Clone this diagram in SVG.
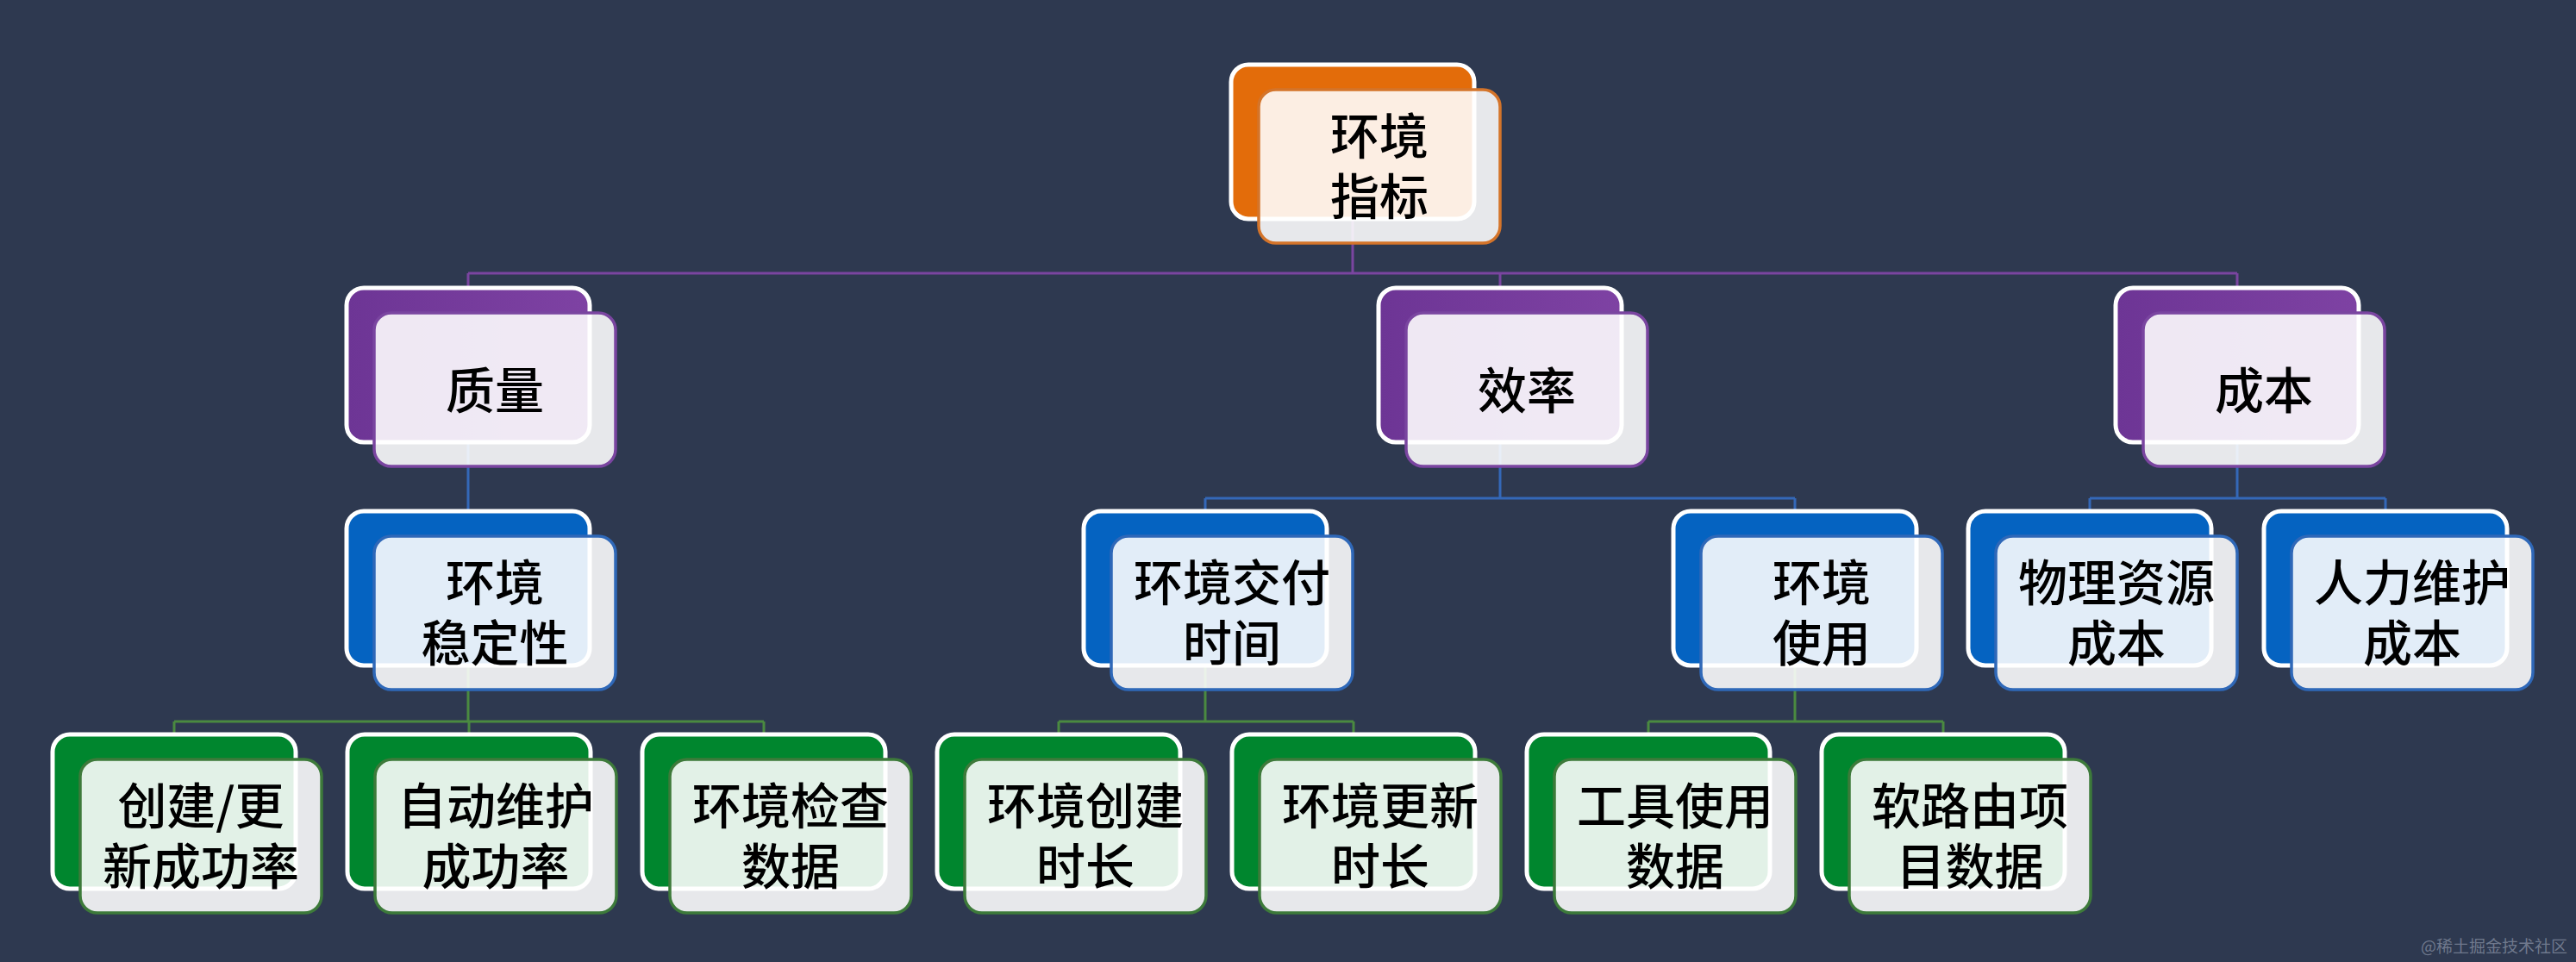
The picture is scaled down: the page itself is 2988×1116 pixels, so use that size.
<svg xmlns="http://www.w3.org/2000/svg" width="2988" height="1116" viewBox="0 0 2988 1116">
<style>
.bk{stroke:#ffffff;stroke-width:5}
.fr{fill:#ffffff;fill-opacity:0.885;stroke-width:3.5}
.t{font-family:"Noto Sans CJK SC","Noto Sans",sans-serif;font-size:57px;font-weight:500;fill:#000000;text-anchor:middle}
.o .bk{fill:#e36c0a}.o .fr{stroke:#d4742a}
.p .bk{fill:url(#gp)}.p .fr{stroke:#7a45a0}
.b .bk{fill:#0563c1}.b .fr{stroke:#2f68b8}
.g .bk{fill:#00862e}.g .fr{stroke:#3d7a3a}
.cp{stroke:#7a45a0;stroke-width:3;fill:none}
.cb{stroke:#3468b8;stroke-width:3;fill:none}
.cg{stroke:#4a8a40;stroke-width:3;fill:none}
</style>
<defs>
<linearGradient id="gp" x1="0" y1="0" x2="1" y2="0">
<stop offset="0" stop-color="#6d3595"/>
<stop offset="1" stop-color="#7e42a3"/>
</linearGradient>
</defs>
<rect width="2988" height="1116" fill="#2e3950"/>
<g id="connectors">
<path class="cp" d="M1569 254V317M543 317H2595M543 317V334M1740 317V334M2595 317V334"/>
<path class="cb" d="M543 513V593M1740 513V578M1398 578H2082M1398 578V593M2082 578V593M2595 513V578M2424 578H2767M2424 578V593M2767 578V593"/>
<path class="cg" d="M543 772V837M202 837H886M202 837V852M544 837V852M886 837V852M1398 772V837M1228 837H1570M1228 837V852M1570 837V852M2082 772V837M1912 837H2254M1912 837V852M2254 837V852"/>
</g>
<g id="n-root" class="o"><rect class="bk" x="1428" y="75" width="282" height="179" rx="20"/><rect class="fr" x="1460" y="104" width="280" height="178" rx="20"/><text class="t" x="1600" y="179">环境<tspan x="1600" dy="70">指标</tspan></text></g>
<g id="n-quality" class="p"><rect class="bk" x="402" y="334" width="282" height="179" rx="20"/><rect class="fr" x="434" y="363" width="280" height="178" rx="20"/><text class="t" x="574" y="474">质量</text></g>
<g id="n-efficiency" class="p"><rect class="bk" x="1599" y="334" width="282" height="179" rx="20"/><rect class="fr" x="1631" y="363" width="280" height="178" rx="20"/><text class="t" x="1771" y="474">效率</text></g>
<g id="n-cost" class="p"><rect class="bk" x="2454" y="334" width="282" height="179" rx="20"/><rect class="fr" x="2486" y="363" width="280" height="178" rx="20"/><text class="t" x="2626" y="474">成本</text></g>
<g id="n-stability" class="b"><rect class="bk" x="402" y="593" width="282" height="179" rx="20"/><rect class="fr" x="434" y="622" width="280" height="178" rx="20"/><text class="t" x="574" y="697">环境<tspan x="574" dy="70">稳定性</tspan></text></g>
<g id="n-delivery" class="b"><rect class="bk" x="1257" y="593" width="282" height="179" rx="20"/><rect class="fr" x="1289" y="622" width="280" height="178" rx="20"/><text class="t" x="1429" y="697">环境交付<tspan x="1429" dy="70">时间</tspan></text></g>
<g id="n-usage" class="b"><rect class="bk" x="1941" y="593" width="282" height="179" rx="20"/><rect class="fr" x="1973" y="622" width="280" height="178" rx="20"/><text class="t" x="2113" y="697">环境<tspan x="2113" dy="70">使用</tspan></text></g>
<g id="n-physical" class="b"><rect class="bk" x="2283" y="593" width="282" height="179" rx="20"/><rect class="fr" x="2315" y="622" width="280" height="178" rx="20"/><text class="t" x="2455" y="697">物理资源<tspan x="2455" dy="70">成本</tspan></text></g>
<g id="n-human" class="b"><rect class="bk" x="2626" y="593" width="282" height="179" rx="20"/><rect class="fr" x="2658" y="622" width="280" height="178" rx="20"/><text class="t" x="2798" y="697">人力维护<tspan x="2798" dy="70">成本</tspan></text></g>
<g id="n-create" class="g"><rect class="bk" x="61" y="852" width="282" height="179" rx="20"/><rect class="fr" x="93" y="881" width="280" height="178" rx="20"/><text class="t" x="233" y="956">创建/更<tspan x="233" dy="70">新成功率</tspan></text></g>
<g id="n-auto" class="g"><rect class="bk" x="403" y="852" width="282" height="179" rx="20"/><rect class="fr" x="435" y="881" width="280" height="178" rx="20"/><text class="t" x="575" y="956">自动维护<tspan x="575" dy="70">成功率</tspan></text></g>
<g id="n-check" class="g"><rect class="bk" x="745" y="852" width="282" height="179" rx="20"/><rect class="fr" x="777" y="881" width="280" height="178" rx="20"/><text class="t" x="917" y="956">环境检查<tspan x="917" dy="70">数据</tspan></text></g>
<g id="n-createtime" class="g"><rect class="bk" x="1087" y="852" width="282" height="179" rx="20"/><rect class="fr" x="1119" y="881" width="280" height="178" rx="20"/><text class="t" x="1259" y="956">环境创建<tspan x="1259" dy="70">时长</tspan></text></g>
<g id="n-updatetime" class="g"><rect class="bk" x="1429" y="852" width="282" height="179" rx="20"/><rect class="fr" x="1461" y="881" width="280" height="178" rx="20"/><text class="t" x="1601" y="956">环境更新<tspan x="1601" dy="70">时长</tspan></text></g>
<g id="n-tool" class="g"><rect class="bk" x="1771" y="852" width="282" height="179" rx="20"/><rect class="fr" x="1803" y="881" width="280" height="178" rx="20"/><text class="t" x="1943" y="956">工具使用<tspan x="1943" dy="70">数据</tspan></text></g>
<g id="n-route" class="g"><rect class="bk" x="2113" y="852" width="282" height="179" rx="20"/><rect class="fr" x="2145" y="881" width="280" height="178" rx="20"/><text class="t" x="2285" y="956">软路由项<tspan x="2285" dy="70">目数据</tspan></text></g>
<text x="2978" y="1105" font-family="'Noto Sans CJK SC','Noto Sans',sans-serif" font-size="19" fill="#8d96a8" fill-opacity="0.7" text-anchor="end">@稀土掘金技术社区</text>
</svg>
